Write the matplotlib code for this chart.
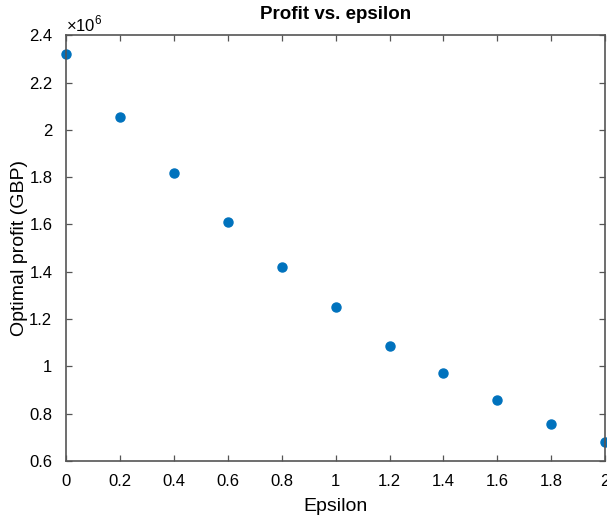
import matplotlib
matplotlib.use("Agg")
import matplotlib.pyplot as plt

plt.rcParams["font.family"] = ["Liberation Sans", "DejaVu Sans"]
plt.rcParams["mathtext.fontset"] = "custom"
plt.rcParams["mathtext.rm"] = "Liberation Sans"

epsilon = [0.0, 0.2, 0.4, 0.6, 0.8, 1.0, 1.2, 1.4, 1.6, 1.8, 2.0]
profit = [2.32e6, 2.053e6, 1.817e6, 1.61e6, 1.42e6, 1.251e6, 1.088e6, 0.972e6, 0.858e6, 0.757e6, 0.68e6]

x_ticks = [0, 0.2, 0.4, 0.6, 0.8, 1, 1.2, 1.4, 1.6, 1.8, 2]
x_labels = ["0", "0.2", "0.4", "0.6", "0.8", "1", "1.2", "1.4", "1.6", "1.8", "2"]
y_ticks = [0.6e6, 0.8e6, 1.0e6, 1.2e6, 1.4e6, 1.6e6, 1.8e6, 2.0e6, 2.2e6, 2.4e6]
y_labels = ["0.6", "0.8", "1", "1.2", "1.4", "1.6", "1.8", "2", "2.2", "2.4"]

fig = plt.figure(figsize=(6.07, 5.18), dpi=100)
ax = fig.add_axes([0.109, 0.110, 0.888, 0.822])

ax.plot(epsilon, profit, "o", color="#0072BD", markersize=6.5, clip_on=False)

ax.set_xlim(0, 2)
ax.set_ylim(0.6e6, 2.4e6)
ax.set_xticks(x_ticks)
ax.set_xticklabels(x_labels)
ax.set_yticks(y_ticks)
ax.set_yticklabels(y_labels)
ax.text(0.0, 1.003, r"$\times10^{6}$", transform=ax.transAxes, fontsize=12, va="bottom", ha="left")

ax.set_title("Profit vs. epsilon", fontsize=13.5, weight="bold", pad=12)
ax.set_xlabel("Epsilon", fontsize=14, labelpad=7)
ax.set_ylabel("Optimal profit (GBP)", fontsize=14, labelpad=1)

for s in ax.spines.values():
    s.set_color("#555555")
    s.set_linewidth(1.2)
ax.tick_params(direction="in", length=4, width=0.9, colors="#555555", labelcolor="black", labelsize=12,
               top=True, right=True)
ax.tick_params(axis="x", pad=9)
ax.tick_params(axis="y", pad=10)

fig.savefig("out.png", dpi=100)
